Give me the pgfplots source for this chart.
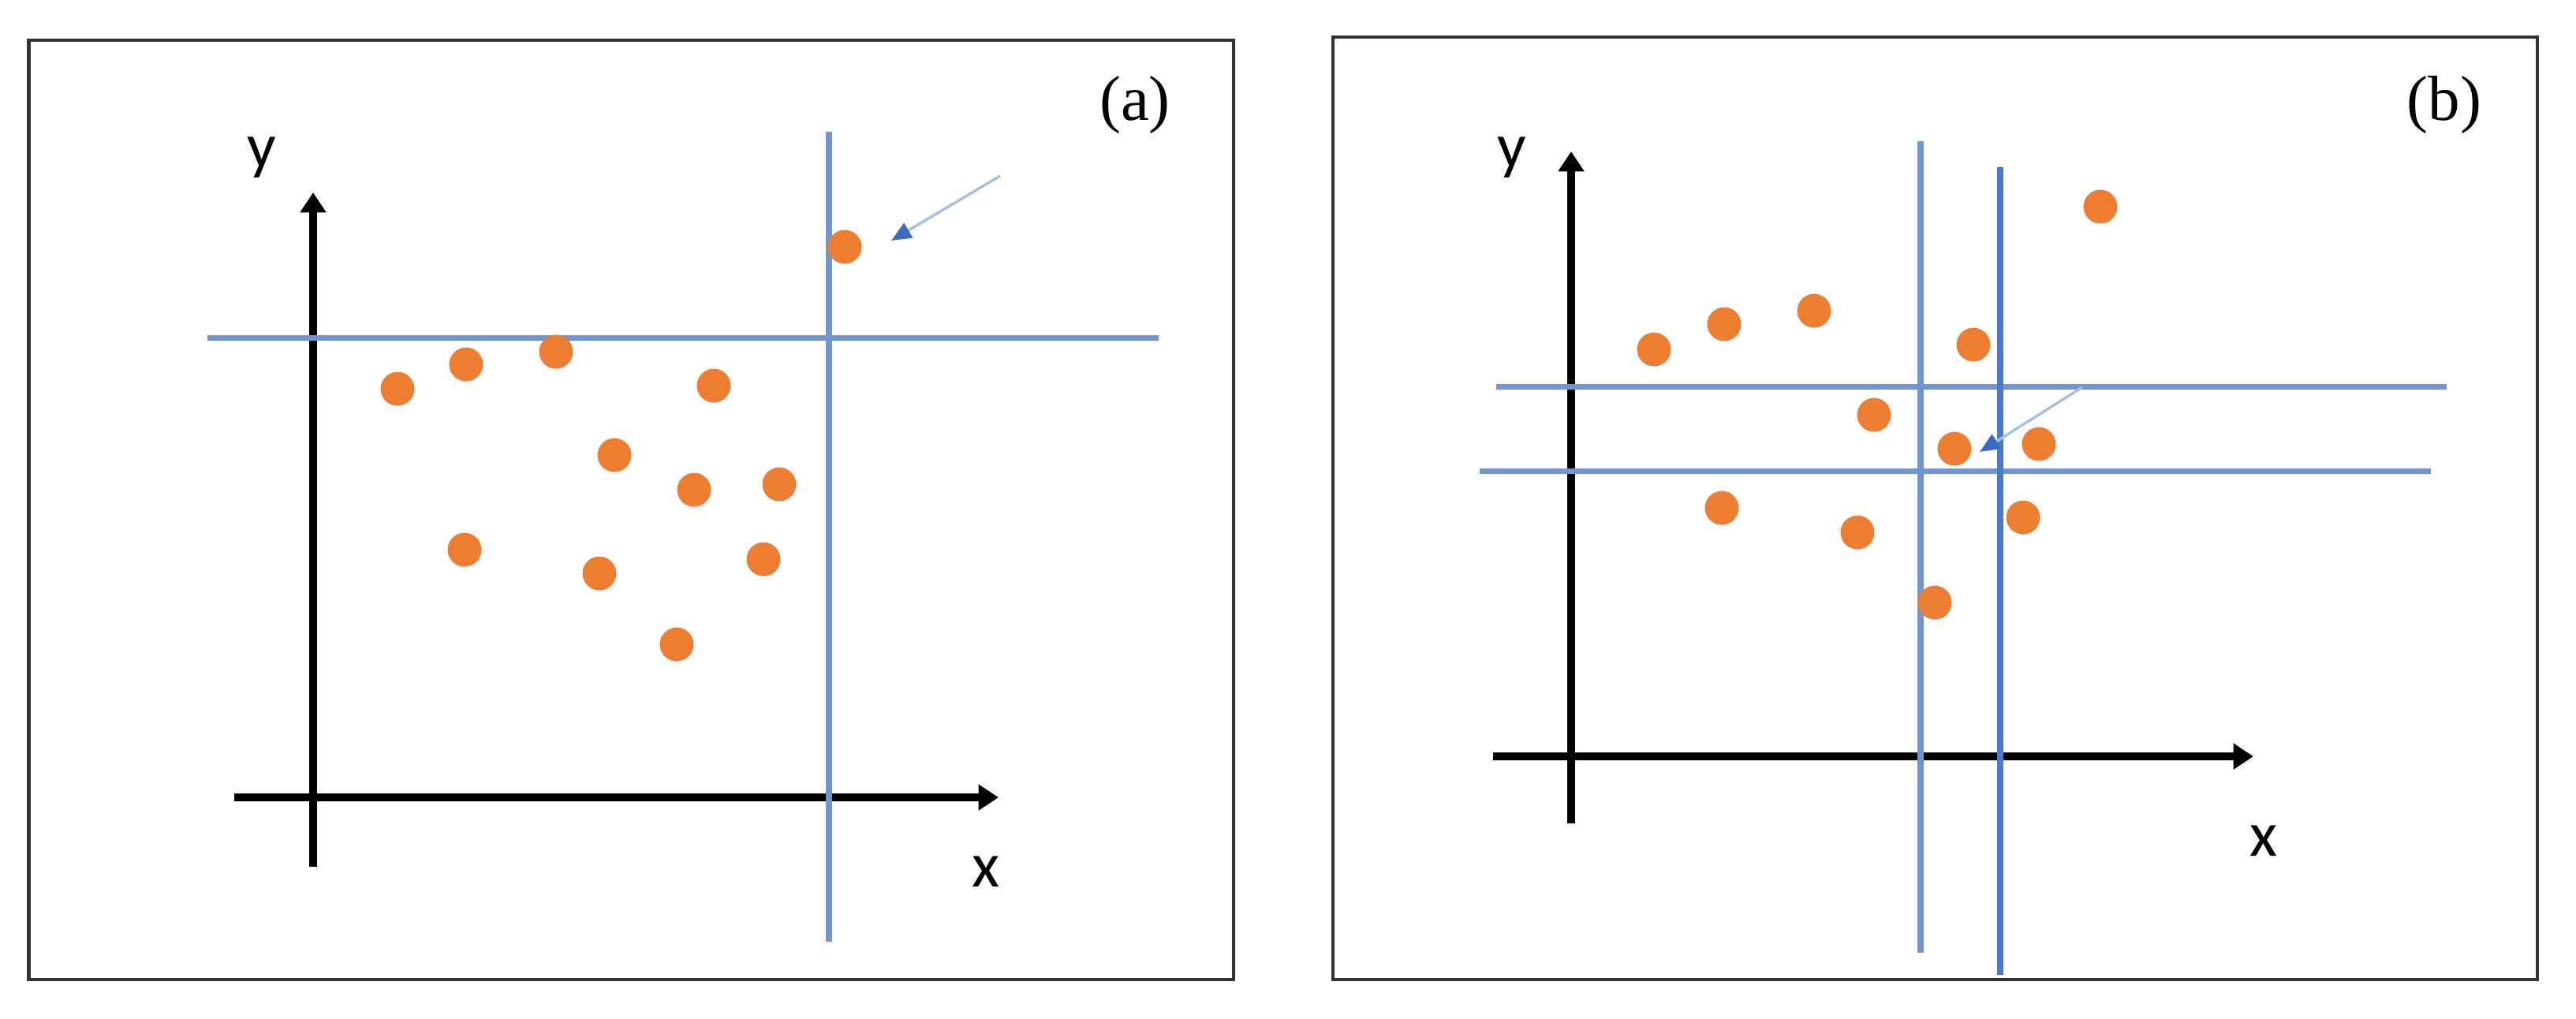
\documentclass[border=0pt]{standalone}
\usepackage{fontspec}
\setmainfont{Liberation Serif}
\newfontfamily\lab{Carlito}
\usepackage{pgfplots}
\pgfplotsset{compat=1.18}
\usetikzlibrary{arrows.meta}
\definecolor{dotorange}{HTML}{ED7D31}
\definecolor{lineblue}{HTML}{7294D3}
\definecolor{lineblueB}{HTML}{4B78C8}
\definecolor{arrowline}{HTML}{A8BFE8}
\definecolor{arrowhead}{HTML}{3A6BC4}
\definecolor{framegray}{HTML}{333333}
\tikzset{
  lblfont/.style={font=\lab\fontsize{11.5}{13}\selectfont},
  tagfont/.style={font=\fontsize{11.5}{13}\selectfont},
}
\pgfplotsset{
  panel/.style={
    scale only axis, y dir=reverse, clip=false,
    xtick=\empty, ytick=\empty,
    axis line style={draw=framegray, line width=0.7pt},
    anchor=south west,
  },
  dots/.style={only marks, mark=*, mark size=2.85pt, color=dotorange, mark options={draw=none, fill=dotorange}},
  blueln/.style={draw=lineblue, line width=1pt, no marks},
  axisarrow/.style={draw=black, line width=1.3pt, no marks, -{Triangle[width=4.5pt,length=3.6pt]}},
  smallarrow/.style={draw=arrowline, line width=0.5pt, no marks, -{Triangle[width=3pt,length=3.6pt,color=arrowhead]}},
}
\begin{document}
\begin{tikzpicture}
\fill[white] (0,0) rectangle (16.33cm,6.455cm);
\useasboundingbox (0,0) rectangle (16.33cm,6.455cm);
% ---------------- panel (a) ----------------
\begin{axis}[panel, at={(0.1825cm,0.245cm)}, width=7.6375cm, height=5.955cm,
  xmin=36.5, xmax=1564, ymin=51, ymax=1242]
  % axes
  \addplot[axisarrow] coordinates {(397,1099) (397,244)};
  \addplot[axisarrow] coordinates {(297,1011) (1266,1011)};
  % threshold lines
  \addplot[blueln] coordinates {(263.5,428) (1469,428)};
  \addplot[blueln] coordinates {(1051,167) (1051,1194)};
  % points
  \addplot[dots] coordinates {
    (504,493) (591,462) (705,446) (905,489) (779,577) (880,621)
    (988,614) (589,697) (760,727) (968,709) (858,817)
  };
  \addplot[dots] coordinates {(1071,313)};
  % pointer
  \addplot[smallarrow] coordinates {(1268,223) (1130,305)};
  \node[lblfont] at (axis cs:332,200) {y};
  \node[lblfont] at (axis cs:1250,1105) {x};
  \node[tagfont] at (axis cs:1439,133) {(a)};
\end{axis}
% ---------------- panel (b) ----------------
\begin{axis}[panel, at={(8.45cm,0.245cm)}, width=7.635cm, height=5.975cm,
  xmin=1690, xmax=3217, ymin=47, ymax=1242]
  \addplot[axisarrow] coordinates {(1992,1044) (1992,192)};
  \addplot[axisarrow] coordinates {(1893,959) (2857,959)};
  \addplot[blueln] coordinates {(1897,490) (3102,490)};
  \addplot[blueln] coordinates {(1876,597) (3082,597)};
  \addplot[blueln] coordinates {(2435,179) (2435,1208)};
  \addplot[blueln, draw=lineblueB] coordinates {(2536,212) (2536,1236)};
  \addplot[dots] coordinates {
    (2097,443) (2186,411) (2300,394) (2502,437) (2663,262) (2376,526)
    (2478,569) (2585,563) (2183,644) (2355,675) (2565,656) (2453,764)
  };
  \addplot[smallarrow] coordinates {(2640,491) (2510,573)};
  \node[lblfont] at (axis cs:1917,200) {y};
  \node[lblfont] at (axis cs:2870,1066) {x};
  \node[tagfont] at (axis cs:3099,133) {(b)};
\end{axis}
\end{tikzpicture}
\end{document}
